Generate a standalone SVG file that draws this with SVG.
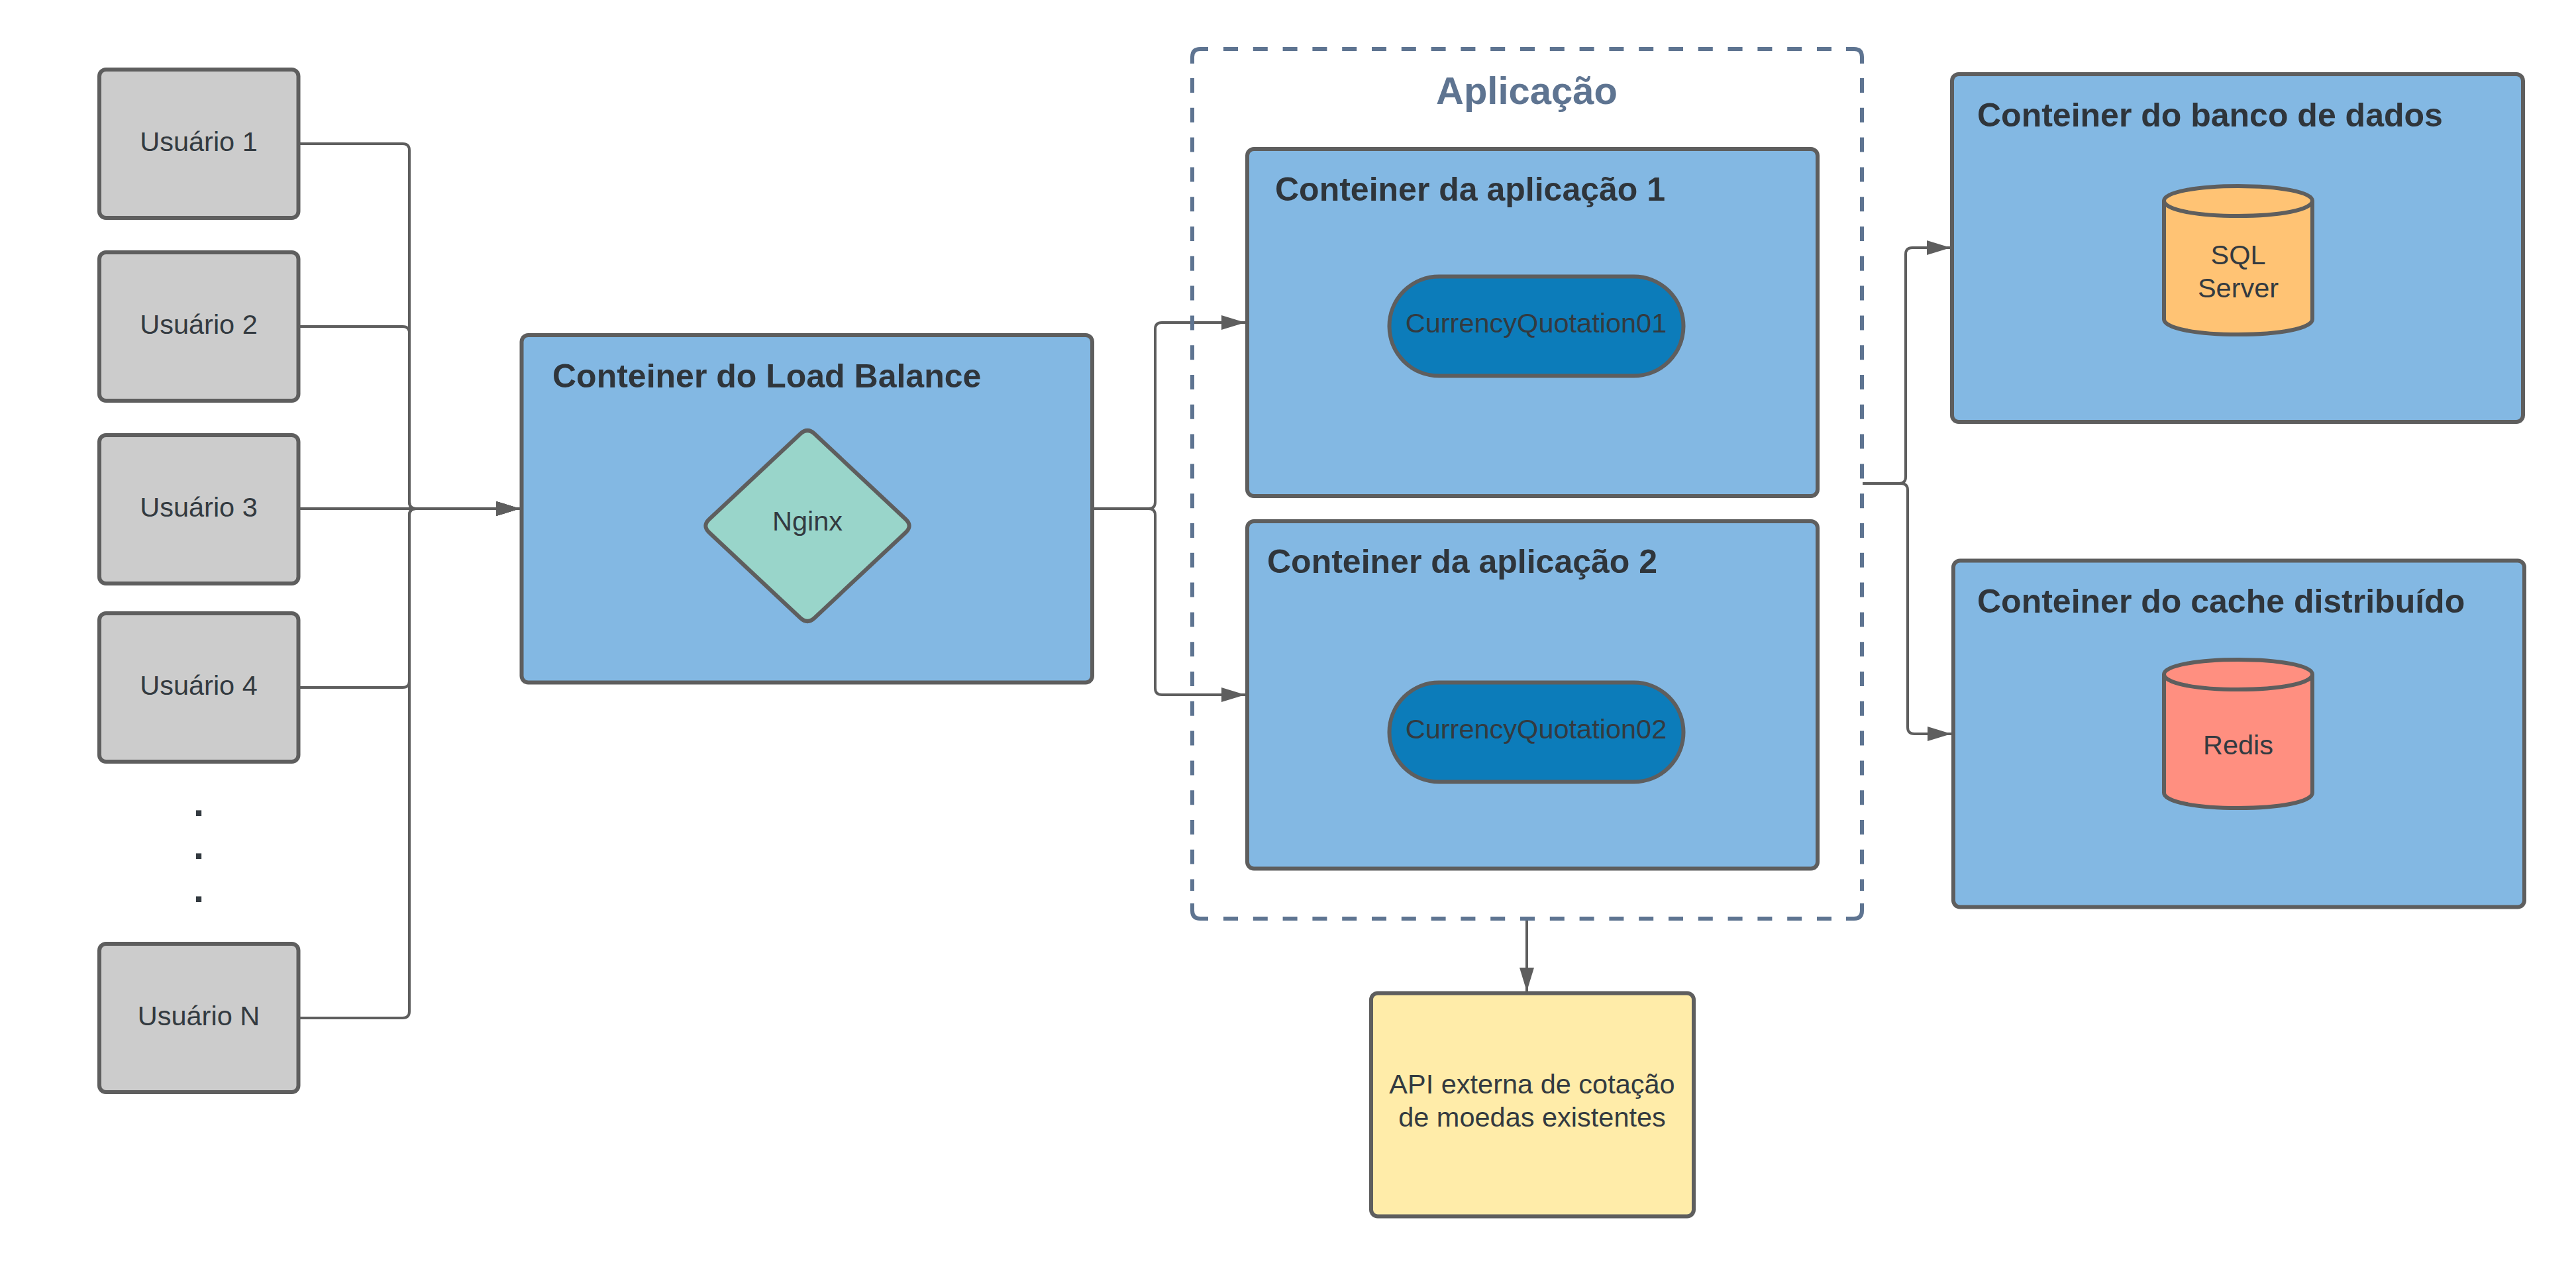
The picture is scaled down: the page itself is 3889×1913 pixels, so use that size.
<svg xmlns="http://www.w3.org/2000/svg" width="3889" height="1913" viewBox="0 0 3889 1913">
<style>
.box{stroke:#5e5e5e;stroke-width:6}
.t{font-family:"Liberation Sans",Arial,sans-serif;font-size:41.5px;fill:#333a40;text-anchor:middle}
.dot{font-family:"Liberation Sans",Arial,sans-serif;font-size:58px;font-weight:bold;fill:#333a40;text-anchor:middle}
.h{font-family:"Liberation Sans",Arial,sans-serif;font-size:50px;font-weight:bold;fill:#2f353b}
.c{fill:none;stroke:#5e5e5e;stroke-width:4}
.b{fill:none;stroke:#5e7491;stroke-width:6}
.d{stroke-dasharray:22 22.8}
.blue{fill:#83b8e3}
.gray{fill:#cccccc}
</style>
<defs>
<marker id="a" markerUnits="userSpaceOnUse" markerWidth="38" markerHeight="24" refX="36" refY="11" orient="auto"><path d="M0 0L36 11L0 22Z" fill="#5e5e5e"/></marker>
</defs>
<rect width="3889" height="1913" fill="#fff"/>
<g id="connectors">
<path class="c" marker-end="url(#a)" d="M452 217H608Q618 217 618 227V758Q618 768 628 768H785"/>
<path class="c" marker-end="url(#a)" d="M452 493H608Q618 493 618 503V758Q618 768 628 768H785"/>
<path class="c" marker-end="url(#a)" d="M452 768H785"/>
<path class="c" marker-end="url(#a)" d="M452 1038H608Q618 1038 618 1028V778Q618 768 628 768H785"/>
<path class="c" marker-end="url(#a)" d="M452 1537H608Q618 1537 618 1527V778Q618 768 628 768H785"/>
<path class="c" marker-end="url(#a)" d="M1651 768H1734Q1744 768 1744 758V497Q1744 487 1754 487H1880"/>
<path class="c" marker-end="url(#a)" d="M1651 768H1734Q1744 768 1744 778V1039Q1744 1049 1754 1049H1880"/>
<path class="c" marker-end="url(#a)" d="M2812 730H2867Q2877 730 2877 720V384Q2877 374 2887 374H2945"/>
<path class="c" marker-end="url(#a)" d="M2812 730H2870Q2880 730 2880 740V1098Q2880 1108 2890 1108H2946"/>
<path class="c" marker-end="url(#a)" d="M2305 1388V1497"/>
</g>
<g id="u1"><rect class="box gray" x="150" y="105" width="300.5" height="224" rx="10"/><text class="t" x="300" y="228">Usuário 1</text></g>
<g id="u2"><rect class="box gray" x="150" y="381" width="300.5" height="224" rx="10"/><text class="t" x="300" y="504">Usuário 2</text></g>
<g id="u3"><rect class="box gray" x="150" y="657" width="300.5" height="224" rx="10"/><text class="t" x="300" y="780">Usuário 3</text></g>
<g id="u4"><rect class="box gray" x="150" y="926" width="300.5" height="224" rx="10"/><text class="t" x="300" y="1049">Usuário 4</text></g>
<g id="dots"><text class="dot" x="300" y="1232">.</text><text class="dot" x="300" y="1297">.</text><text class="dot" x="300" y="1362">.</text></g>
<g id="un"><rect class="box gray" x="150" y="1425" width="300.5" height="224" rx="10"/><text class="t" x="300" y="1548">Usuário N</text></g>
<g id="lb"><rect class="box blue" x="787.5" y="506" width="861.5" height="524.5" rx="10"/><text class="h" x="834" y="585">Conteiner do Load Balance</text>
<path d="M1208.3 655Q1219 645 1229.7 655L1367.3 784Q1378 794 1367.3 804L1229.7 933Q1219 943 1208.3 933L1070.7 804Q1060 794 1070.7 784Z" fill="#99d5ca" stroke="#5e5e5e" stroke-width="6"/><text class="t" x="1219" y="801">Nginx</text></g>
<g id="app">
<path class="b" d="M1800 96V86Q1800 74 1812 74H1824M2787 74H2799Q2811 74 2811 86V96M1800 1364V1375Q1800 1387 1812 1387H1824M2787 1387H2799Q2811 1387 2811 1375V1364"/>
<path class="b d" d="M1847 74H2770M1847 1387H2770M1800 118V1345M2811 118V1345"/>
<text x="2305" y="157" font-family="'Liberation Sans',Arial,sans-serif" font-size="58" font-weight="bold" fill="#5e7491" text-anchor="middle">Aplicação</text></g>
<g id="c1"><rect class="box blue" x="1883" y="225" width="861" height="524" rx="10"/><text class="h" x="1925" y="303">Conteiner da aplicação 1</text>
<rect x="2097.5" y="417.5" width="444" height="150" rx="75" fill="#0c7cba" stroke="#5e5e5e" stroke-width="6"/><text class="t" x="2319" y="502">CurrencyQuotation01</text></g>
<g id="c2"><rect class="box blue" x="1883" y="787" width="861" height="524.5" rx="10"/><text class="h" x="1913" y="865">Conteiner da aplicação 2</text>
<rect x="2097.5" y="1030.5" width="444" height="150" rx="75" fill="#0c7cba" stroke="#5e5e5e" stroke-width="6"/><text class="t" x="2319" y="1115">CurrencyQuotation02</text></g>
<g id="db"><rect class="box blue" x="2947" y="112" width="862" height="525" rx="10"/><text class="h" x="2985" y="191">Conteiner do banco de dados</text>
<path d="M3267 303V482C3267 496 3317 505 3379 505S3491 496 3491 482V303C3491 290 3441 281 3379 281S3267 290 3267 303Z" fill="#ffc374" stroke="#5e5e5e" stroke-width="6"/><path d="M3267 303C3267 317 3317 326 3379 326S3491 317 3491 303" fill="none" stroke="#5e5e5e" stroke-width="6"/><text class="t" x="3379" y="399">SQL</text><text class="t" x="3379" y="449">Server</text></g>
<g id="cache"><rect class="box blue" x="2949" y="846.5" width="862" height="523" rx="10"/><text class="h" x="2985" y="925">Conteiner do cache distribuído</text>
<path d="M3267 1018V1197C3267 1211 3317 1220 3379 1220S3491 1211 3491 1197V1018C3491 1005 3441 996 3379 996S3267 1005 3267 1018Z" fill="#ff8f80" stroke="#5e5e5e" stroke-width="6"/><path d="M3267 1018C3267 1032 3317 1041 3379 1041S3491 1032 3491 1018" fill="none" stroke="#5e5e5e" stroke-width="6"/><text class="t" x="3379" y="1139">Redis</text></g>
<g id="api"><rect x="2070" y="1499.5" width="487" height="337" rx="10" fill="#ffeca9" stroke="#5e5e5e" stroke-width="6"/><text class="t" x="2313" y="1651">API externa de cotação</text><text class="t" x="2313" y="1701">de moedas existentes</text></g>
</svg>
